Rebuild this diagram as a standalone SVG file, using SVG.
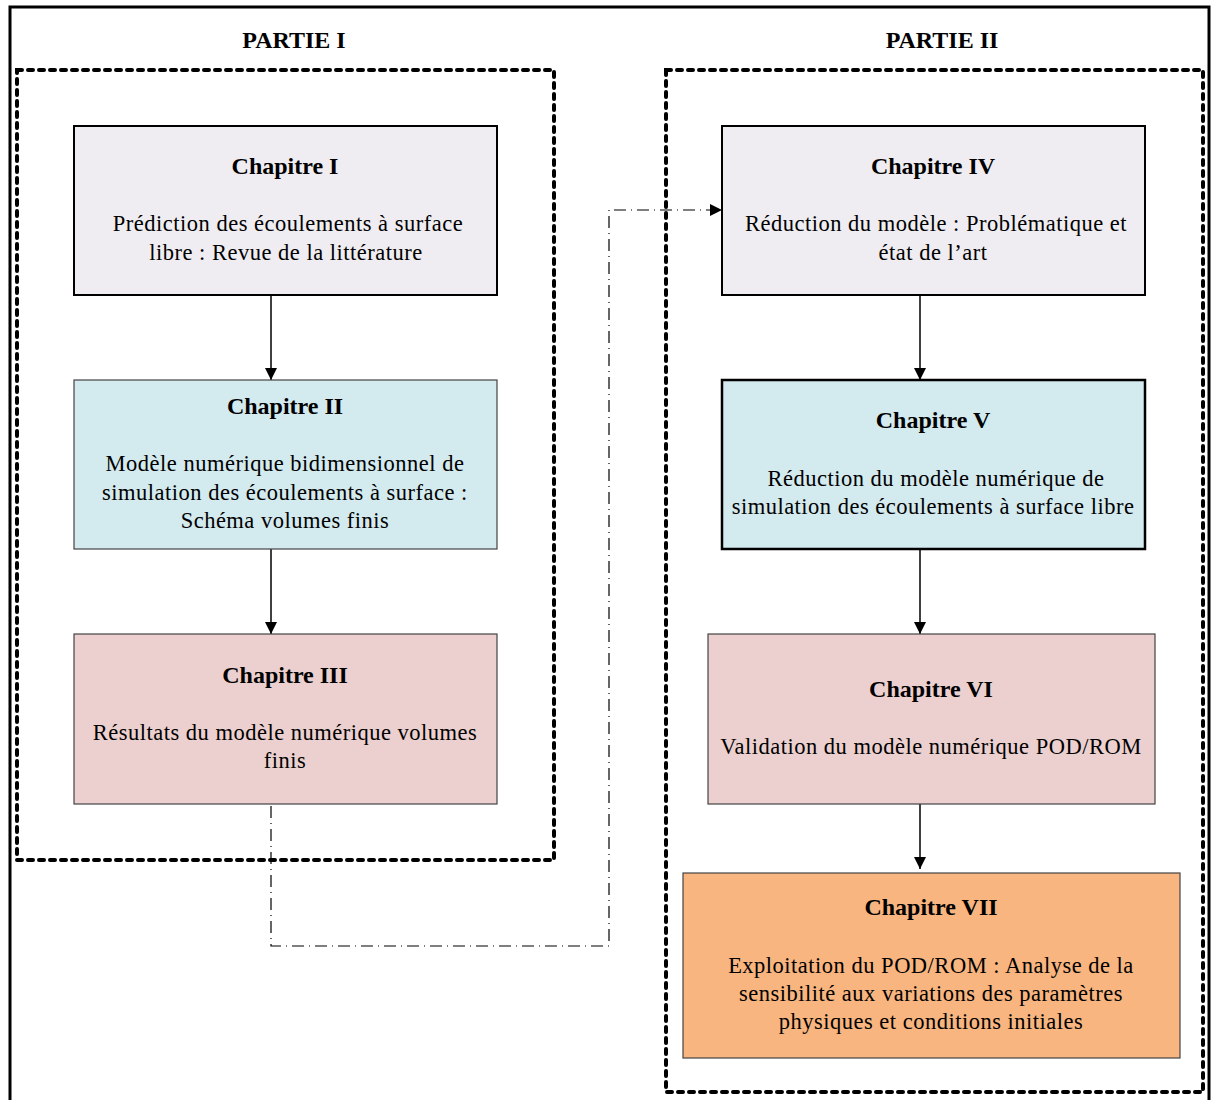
<svg xmlns="http://www.w3.org/2000/svg" width="1212" height="1100" viewBox="0 0 1212 1100">
<style>
.t{font-family:"Liberation Serif","Times New Roman",serif;font-weight:bold;font-size:24px;fill:#000;text-anchor:middle}
.b{font-family:"Liberation Serif","Times New Roman",serif;font-size:22.5px;letter-spacing:0.5px;fill:#000;text-anchor:middle}
.dash{fill:none;stroke:#000;stroke-width:4;stroke-dasharray:5 6;stroke-linecap:round}
.conn{fill:none;stroke:#000;stroke-width:1.5}
.dd{fill:none;stroke:#000;stroke-width:1.2;stroke-dasharray:12 5 1 5}
</style>
<defs>
<marker id="ah" viewBox="0 0 10 10" refX="10" refY="5" markerWidth="12" markerHeight="12" markerUnits="userSpaceOnUse" orient="auto">
<path d="M0,0 L10,5 L0,10 Z" fill="#000"/>
</marker>
</defs>
<rect x="0" y="0" width="1212" height="1100" fill="#fff"/>
<rect x="10" y="7" width="1199" height="1100" fill="none" stroke="#000" stroke-width="3"/>
<text class="t" x="294" y="48">PARTIE I</text>
<text class="t" x="942" y="48">PARTIE II</text>
<rect class="dash" x="17" y="70" width="537" height="790"/>
<rect class="dash" x="666" y="70" width="537" height="1022"/>
<g id="connectors">
<line class="conn" x1="271" y1="295" x2="271" y2="380" marker-end="url(#ah)"/>
<line class="conn" x1="271" y1="549" x2="271" y2="634" marker-end="url(#ah)"/>
<line class="conn" x1="920" y1="295" x2="920" y2="380" marker-end="url(#ah)"/>
<line class="conn" x1="920" y1="549" x2="920" y2="634" marker-end="url(#ah)"/>
<line class="conn" x1="920" y1="804" x2="920" y2="869" marker-end="url(#ah)"/>
<polyline class="dd" points="271,806 271,946 609,946 609,210 722,210" marker-end="url(#ah)"/>
</g>
<g id="ch1"><rect x="74" y="126" width="423" height="169" fill="#efedf2" stroke="#000" stroke-width="2"/>
<text class="t" x="285" y="174">Chapitre I</text>
<text class="b" x="288" y="231">Prédiction des écoulements à surface</text>
<text class="b" x="286" y="260">libre : Revue de la littérature</text></g>
<g id="ch2"><rect x="74" y="380" width="423" height="169" fill="#d3eaef" stroke="#444" stroke-width="1.2"/>
<text class="t" x="285" y="414">Chapitre II</text>
<text class="b" x="285" y="471">Modèle numérique bidimensionnel de</text>
<text class="b" x="285" y="500">simulation des écoulements à surface :</text>
<text class="b" x="285" y="528">Schéma volumes finis</text></g>
<g id="ch3"><rect x="74" y="634" width="423" height="170" fill="#ecd0cf" stroke="#444" stroke-width="1.2"/>
<text class="t" x="285" y="683">Chapitre III</text>
<text class="b" x="285" y="740">Résultats du modèle numérique volumes</text>
<text class="b" x="285" y="768">finis</text></g>
<g id="ch4"><rect x="722" y="126" width="423" height="169" fill="#efedf2" stroke="#000" stroke-width="2"/>
<text class="t" x="933" y="174">Chapitre IV</text>
<text class="b" x="936" y="231">Réduction du modèle : Problématique et</text>
<text class="b" x="933" y="260">état de l’art</text></g>
<g id="ch5"><rect x="722" y="380" width="423" height="169" fill="#d3eaef" stroke="#000" stroke-width="2.5"/>
<text class="t" x="933" y="428">Chapitre V</text>
<text class="b" x="936" y="486">Réduction du modèle numérique de</text>
<text class="b" x="933" y="514">simulation des écoulements à surface libre</text></g>
<g id="ch6"><rect x="708" y="634" width="447" height="170" fill="#ecd0cf" stroke="#444" stroke-width="1.2"/>
<text class="t" x="931" y="697">Chapitre VI</text>
<text class="b" x="931" y="754">Validation du modèle numérique POD/ROM</text></g>
<g id="ch7"><rect x="683" y="873" width="497" height="185" fill="#f8b57f" stroke="#444" stroke-width="1.2"/>
<text class="t" x="931" y="915">Chapitre VII</text>
<text class="b" x="931" y="973">Exploitation du POD/ROM : Analyse de la</text>
<text class="b" x="931" y="1001">sensibilité aux variations des paramètres</text>
<text class="b" x="931" y="1029">physiques et conditions initiales</text></g>
</svg>
